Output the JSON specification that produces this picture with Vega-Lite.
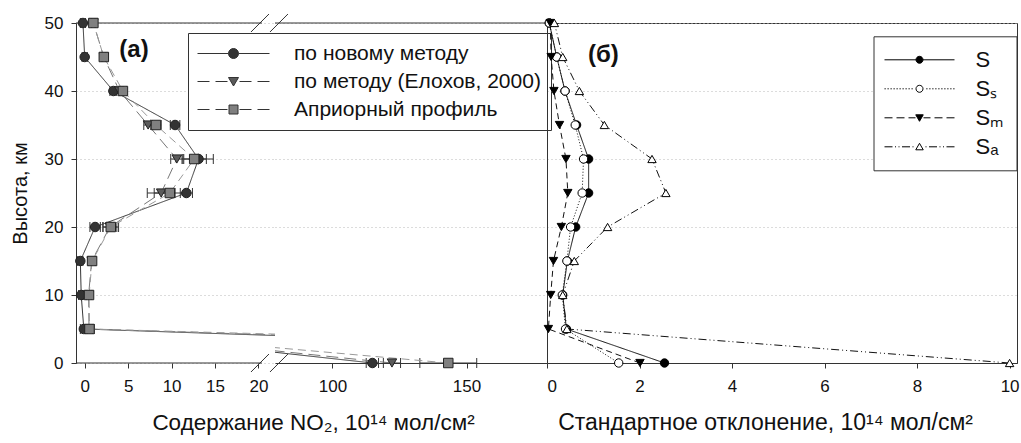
{
  "$schema": "https://vega.github.io/schema/vega-lite/v6.json",
  "padding": {"left": 10, "top": 12, "right": 3, "bottom": 3},
  "background": "white",
  "config": {
    "view": {"stroke": null},
    "font": "Liberation Sans",
    "axis": {"labelFont": "Liberation Sans", "labelFontSize": 17, "labelColor": "#111", "titleFont": "Liberation Sans", "titleFontWeight": "normal", "titleColor": "#111", "domainColor": "#333", "tickColor": "#333", "tickSize": 5, "gridColor": "#b8b8b8", "gridDash": [1, 3], "domainWidth": 1, "tickWidth": 1},
    "legend": {"labelFont": "Liberation Sans", "labelColor": "#111", "labelLimit": 400}
  },
  "datasets": {
    "a": [
      {"s": "по новому методу", "h": 50, "v": -0.2, "lo": -0.5, "hi": 0.1},
      {"s": "по новому методу", "h": 45, "v": 0.0, "lo": -0.3, "hi": 0.3},
      {"s": "по новому методу", "h": 40, "v": 3.3, "lo": 2.9, "hi": 3.7},
      {"s": "по новому методу", "h": 35, "v": 10.4, "lo": 9.85, "hi": 10.95},
      {"s": "по новому методу", "h": 30, "v": 13.1, "lo": 11.4, "hi": 14.8},
      {"s": "по новому методу", "h": 25, "v": 11.7, "lo": 11.0, "hi": 12.4},
      {"s": "по новому методу", "h": 20, "v": 1.2, "lo": 0.6, "hi": 1.8},
      {"s": "по новому методу", "h": 15, "v": -0.5, "lo": -0.8, "hi": -0.2},
      {"s": "по новому методу", "h": 10, "v": -0.4, "lo": -0.7, "hi": -0.1},
      {"s": "по новому методу", "h": 5, "v": -0.1, "lo": -0.5, "hi": 0.3},
      {"s": "по новому методу", "h": 0, "v": 114.9, "lo": 112.6, "hi": 117.2},
      {"s": "по методу (Елохов, 2000)", "h": 50, "v": 1.0, "lo": 0.8, "hi": 1.2},
      {"s": "по методу (Елохов, 2000)", "h": 45, "v": 2.2, "lo": 2.0, "hi": 2.4},
      {"s": "по методу (Елохов, 2000)", "h": 40, "v": 4.0, "lo": 3.6, "hi": 4.4},
      {"s": "по методу (Елохов, 2000)", "h": 35, "v": 7.3, "lo": 6.8, "hi": 7.8},
      {"s": "по методу (Елохов, 2000)", "h": 30, "v": 10.6, "lo": 9.9, "hi": 11.3},
      {"s": "по методу (Елохов, 2000)", "h": 25, "v": 8.8, "lo": 7.2, "hi": 10.4},
      {"s": "по методу (Елохов, 2000)", "h": 20, "v": 2.9, "lo": 2.1, "hi": 3.7},
      {"s": "по методу (Елохов, 2000)", "h": 15, "v": 0.8, "lo": 0.4, "hi": 1.2},
      {"s": "по методу (Елохов, 2000)", "h": 10, "v": 0.45, "lo": 0.15, "hi": 0.75},
      {"s": "по методу (Елохов, 2000)", "h": 5, "v": 0.5, "lo": 0.1, "hi": 0.9},
      {"s": "по методу (Елохов, 2000)", "h": 0, "v": 122.2, "lo": 119.0, "hi": 125.4},
      {"s": "Априорный профиль", "h": 50, "v": 1.0, "lo": 0.8, "hi": 1.2},
      {"s": "Априорный профиль", "h": 45, "v": 2.2, "lo": 2.0, "hi": 2.4},
      {"s": "Априорный профиль", "h": 40, "v": 4.4, "lo": 4.0, "hi": 4.8},
      {"s": "Априорный профиль", "h": 35, "v": 8.2, "lo": 7.6, "hi": 8.8},
      {"s": "Априорный профиль", "h": 30, "v": 12.6, "lo": 11.2, "hi": 14.0},
      {"s": "Априорный профиль", "h": 25, "v": 9.8, "lo": 8.0, "hi": 11.6},
      {"s": "Априорный профиль", "h": 20, "v": 3.0, "lo": 2.1, "hi": 3.9},
      {"s": "Априорный профиль", "h": 15, "v": 0.85, "lo": 0.45, "hi": 1.25},
      {"s": "Априорный профиль", "h": 10, "v": 0.5, "lo": 0.2, "hi": 0.8},
      {"s": "Априорный профиль", "h": 5, "v": 0.55, "lo": 0.0, "hi": 1.1},
      {"s": "Априорный профиль", "h": 0, "v": 143.2, "lo": 132.6, "hi": 153.8}
    ],
    "b": [
      {"s": "S", "h": 50, "v": 0.05}, {"s": "S", "h": 45, "v": 0.21}, {"s": "S", "h": 40, "v": 0.39}, {"s": "S", "h": 35, "v": 0.64}, {"s": "S", "h": 30, "v": 0.90}, {"s": "S", "h": 25, "v": 0.90}, {"s": "S", "h": 20, "v": 0.62}, {"s": "S", "h": 15, "v": 0.44}, {"s": "S", "h": 10, "v": 0.34}, {"s": "S", "h": 5, "v": 0.42}, {"s": "S", "h": 0, "v": 2.54},
      {"s": "Sₛ", "h": 50, "v": 0.05}, {"s": "Sₛ", "h": 45, "v": 0.21}, {"s": "Sₛ", "h": 40, "v": 0.39}, {"s": "Sₛ", "h": 35, "v": 0.61}, {"s": "Sₛ", "h": 30, "v": 0.79}, {"s": "Sₛ", "h": 25, "v": 0.76}, {"s": "Sₛ", "h": 20, "v": 0.51}, {"s": "Sₛ", "h": 15, "v": 0.43}, {"s": "Sₛ", "h": 10, "v": 0.33}, {"s": "Sₛ", "h": 5, "v": 0.40}, {"s": "Sₛ", "h": 0, "v": 1.55},
      {"s": "Sₘ", "h": 50, "v": 0.07}, {"s": "Sₘ", "h": 45, "v": 0.09}, {"s": "Sₘ", "h": 40, "v": 0.15}, {"s": "Sₘ", "h": 35, "v": 0.27}, {"s": "Sₘ", "h": 30, "v": 0.41}, {"s": "Sₘ", "h": 25, "v": 0.45}, {"s": "Sₘ", "h": 20, "v": 0.31}, {"s": "Sₘ", "h": 15, "v": 0.14}, {"s": "Sₘ", "h": 10, "v": 0.08}, {"s": "Sₘ", "h": 5, "v": 0.03}, {"s": "Sₘ", "h": 0, "v": 2.01},
      {"s": "Sₐ", "h": 50, "v": 0.16}, {"s": "Sₐ", "h": 45, "v": 0.34}, {"s": "Sₐ", "h": 40, "v": 0.70}, {"s": "Sₐ", "h": 35, "v": 1.24}, {"s": "Sₐ", "h": 30, "v": 2.27}, {"s": "Sₐ", "h": 25, "v": 2.57}, {"s": "Sₐ", "h": 20, "v": 1.31}, {"s": "Sₐ", "h": 15, "v": 0.59}, {"s": "Sₐ", "h": 10, "v": 0.34}, {"s": "Sₐ", "h": 5, "v": 0.43}, {"s": "Sₐ", "h": 0, "v": 10.0}
    ]
  },
  "hconcat": [
    {
      "width": 199,
      "height": 340,
      "layer": [
        {
          "data": {"values": [{}]},
          "mark": {"type": "rule", "color": "#333", "strokeWidth": 1},
          "encoding": {"x": {"datum": -1, "type": "quantitative"}, "x2": {"datum": 20.4}, "y": {"datum": 50, "type": "quantitative"}}
        },
        {
          "data": {"values": [{}]},
          "mark": {"type": "rule", "color": "#333", "strokeWidth": 1},
          "encoding": {"x": {"datum": -1, "type": "quantitative"}, "x2": {"datum": 20.4}, "y": {"datum": 0, "type": "quantitative"}}
        },
        {
          "data": {"name": "a"},
          "transform": [{"filter": "datum.v <= 20.4"}],
          "mark": {"type": "rule", "color": "#333", "strokeWidth": 1},
          "encoding": {"x": {"field": "lo", "type": "quantitative"}, "x2": {"field": "hi"}, "y": {"field": "h", "type": "quantitative"}}
        },
        {
          "data": {"name": "a"},
          "transform": [{"filter": "datum.v <= 20.4"}],
          "mark": {"type": "tick", "orient": "vertical", "size": 10, "thickness": 1, "color": "#333", "opacity": 1},
          "encoding": {"x": {"field": "lo", "type": "quantitative"}, "y": {"field": "h", "type": "quantitative"}}
        },
        {
          "data": {"name": "a"},
          "transform": [{"filter": "datum.v <= 20.4"}],
          "mark": {"type": "tick", "orient": "vertical", "size": 10, "thickness": 1, "color": "#333", "opacity": 1},
          "encoding": {"x": {"field": "hi", "type": "quantitative"}, "y": {"field": "h", "type": "quantitative"}}
        },
        {
          "data": {"name": "a"},
          "mark": {"type": "line", "clip": true, "strokeWidth": 1},
          "encoding": {
            "x": {"field": "v", "type": "quantitative", "scale": {"domain": [-1, 21.9], "nice": false, "zero": false}, "axis": {"values": [0, 5, 10, 15, 20], "title": null, "labelPadding": 10, "grid": false, "domain": false}},
            "y": {"field": "h", "type": "quantitative", "scale": {"domain": [0, 50], "nice": false}, "axis": {"values": [0, 10, 20, 30, 40, 50], "title": "Высота, км", "titleFontSize": 20, "titlePadding": 14, "labelPadding": 8, "grid": true}},
            "order": {"field": "h", "type": "quantitative"},
            "stroke": {"field": "s", "type": "nominal", "scale": {"domain": ["по новому методу", "по методу (Елохов, 2000)", "Априорный профиль"], "range": ["#333", "#777", "#999"]}, "legend": null},
            "strokeDash": {"field": "s", "type": "nominal", "scale": {"domain": ["по новому методу", "по методу (Елохов, 2000)", "Априорный профиль"], "range": [[1, 0], [12, 6], [8, 5]]}, "legend": null}
          }
        },
        {
          "data": {"name": "a"},
          "transform": [{"filter": "datum.v <= 20.4"}],
          "mark": {"type": "point", "filled": true, "size": 90, "stroke": "#222", "strokeWidth": 1, "opacity": 1},
          "encoding": {
            "x": {"field": "v", "type": "quantitative"},
            "y": {"field": "h", "type": "quantitative"},
            "shape": {"field": "s", "type": "nominal", "scale": {"domain": ["по новому методу", "по методу (Елохов, 2000)", "Априорный профиль"], "range": ["circle", "triangle-down", "square"]}, "legend": null},
            "fill": {"field": "s", "type": "nominal", "scale": {"domain": ["по новому методу", "по методу (Елохов, 2000)", "Априорный профиль"], "range": ["#333", "#5a5a5a", "#808080"]}, "legend": null}
          }
        },
        {
          "data": {"values": [{}]},
          "mark": {"type": "text", "text": "(а)", "fontSize": 24, "fontWeight": "bold", "font": "Liberation Sans", "align": "center", "baseline": "middle", "color": "#111"},
          "encoding": {"x": {"datum": 5.67, "type": "quantitative"}, "y": {"datum": 46, "type": "quantitative"}}
        }
      ]
    },
    {
      "width": 272,
      "height": 340,
      "resolve": {"scale": {"shape": "independent", "color": "independent"}},
      "layer": [
        {
          "data": {"values": [{}]},
          "mark": {"type": "rule", "color": "#333", "strokeWidth": 1},
          "encoding": {"y": {"datum": 50, "type": "quantitative", "scale": {"domain": [0, 50], "nice": false}}}
        },
        {
          "data": {"name": "a"},
          "transform": [{"filter": "datum.v >= 78.6"}],
          "mark": {"type": "rule", "color": "#333", "strokeWidth": 1},
          "encoding": {"x": {"field": "lo", "type": "quantitative"}, "x2": {"field": "hi"}, "y": {"field": "h", "type": "quantitative"}}
        },
        {
          "data": {"name": "a"},
          "transform": [{"filter": "datum.v >= 78.6"}],
          "mark": {"type": "tick", "orient": "vertical", "size": 10, "thickness": 1, "color": "#333", "opacity": 1},
          "encoding": {"x": {"field": "lo", "type": "quantitative"}, "y": {"field": "h", "type": "quantitative"}}
        },
        {
          "data": {"name": "a"},
          "transform": [{"filter": "datum.v >= 78.6"}],
          "mark": {"type": "tick", "orient": "vertical", "size": 10, "thickness": 1, "color": "#333", "opacity": 1},
          "encoding": {"x": {"field": "hi", "type": "quantitative"}, "y": {"field": "h", "type": "quantitative"}}
        },
        {
          "data": {"name": "a"},
          "mark": {"type": "line", "clip": true, "strokeWidth": 1},
          "encoding": {
            "x": {"field": "v", "type": "quantitative", "scale": {"domain": [78.6, 180], "nice": false, "zero": false}, "axis": {"values": [100, 150], "title": "Содержание NO₂, 10¹⁴ мол/см²", "titleFontSize": 22.5, "titleX": 38, "titlePadding": 17, "labelPadding": 10, "grid": false}},
            "y": {"field": "h", "type": "quantitative", "scale": {"domain": [0, 50], "nice": false}, "axis": {"values": [0, 10, 20, 30, 40, 50], "title": null, "labels": false, "ticks": false, "domain": false, "grid": true}},
            "order": {"field": "h", "type": "quantitative"},
            "stroke": {"field": "s", "type": "nominal", "scale": {"domain": ["Априорный профиль", "по методу (Елохов, 2000)", "по новому методу"], "range": ["#999", "#777", "#333"]}, "legend": null},
            "strokeDash": {"field": "s", "type": "nominal", "scale": {"domain": ["Априорный профиль", "по методу (Елохов, 2000)", "по новому методу"], "range": [[8, 5], [12, 6], [1, 0]]}, "legend": null}
          }
        },
        {
          "data": {"name": "a"},
          "transform": [{"filter": "datum.v >= 78.6"}],
          "mark": {"type": "point", "filled": true, "size": 90, "stroke": "#222", "strokeWidth": 1, "opacity": 1},
          "encoding": {
            "x": {"field": "v", "type": "quantitative"},
            "y": {"field": "h", "type": "quantitative"},
            "shape": {"field": "s", "type": "nominal", "scale": {"domain": ["Априорный профиль", "по методу (Елохов, 2000)", "по новому методу"], "range": ["square", "triangle-down", "circle"]}, "legend": null},
            "fill": {"field": "s", "type": "nominal", "scale": {"domain": ["Априорный профиль", "по методу (Елохов, 2000)", "по новому методу"], "range": ["#808080", "#5a5a5a", "#333"]}, "legend": null}
          }
        },
        {
          "data": {"name": "a"},
          "transform": [{"filter": "datum.v > 1000"}],
          "mark": {"type": "point", "filled": true, "size": 100, "stroke": "#333", "strokeWidth": 1, "opacity": 1},
          "encoding": {
            "x": {"field": "v", "type": "quantitative"},
            "y": {"field": "h", "type": "quantitative"},
            "shape": {
              "field": "s", "type": "nominal",
              "scale": {"domain": ["по новому методу", "по методу (Елохов, 2000)", "Априорный профиль"], "range": ["M-7.2,0H-1M1,0H7.2M-1,0A1,1,0,1,0,1,0A1,1,0,1,0,-1,0Z", "M-7.2,0H-4.8M-3.6,0H-1.2M1.2,0H3.6M4.8,0H7.2M-1,-0.8L1,-0.8L0,0.9Z", "M-7.2,0H-4.8M-3.6,0H-1.2M1.2,0H3.6M4.8,0H7.2M-0.9,-0.9H0.9V0.9H-0.9Z"]},
              "legend": {
                "orient": "none", "legendX": -87, "legendY": 10, "direction": "vertical", "title": null,
                "strokeColor": "#333", "fillColor": "#fff", "padding": 10, "rowPadding": 6, "cornerRadius": 0,
                "labelFontSize": 21, "labelLimit": 400,
                "symbolOffset": 25, "labelOffset": 50, "symbolSize": 100, "symbolStrokeWidth": 1
              }
            },
            "color": {
              "field": "s", "type": "nominal",
              "scale": {"domain": ["по новому методу", "по методу (Елохов, 2000)", "Априорный профиль"], "range": ["#333", "#5a5a5a", "#808080"]},
              "legend": {
                "orient": "none", "legendX": -87, "legendY": 10, "direction": "vertical", "title": null,
                "strokeColor": "#333", "fillColor": "#fff", "padding": 10, "rowPadding": 6, "cornerRadius": 0,
                "labelFontSize": 21, "labelLimit": 400,
                "symbolOffset": 25, "labelOffset": 50, "symbolSize": 100, "symbolStrokeWidth": 1
              }
            }
          }
        },
        {
          "data": {"values": [{}]},
          "mark": {"type": "point", "shape": "M-2.67,1L-0.67,-1M-0.56,1L1.44,-1", "size": 324, "filled": false, "stroke": "#333", "strokeWidth": 1, "opacity": 1},
          "encoding": {"x": {"datum": 78.6, "type": "quantitative"}, "y": {"datum": 0, "type": "quantitative"}}
        },
        {
          "data": {"values": [{}]},
          "mark": {"type": "point", "shape": "M-2.67,1L-0.67,-1M-0.56,1L1.44,-1", "size": 324, "filled": false, "stroke": "#333", "strokeWidth": 1, "opacity": 1},
          "encoding": {"x": {"datum": 78.6, "type": "quantitative"}, "y": {"datum": 50, "type": "quantitative"}}
        }
      ]
    },
    {
      "width": 470,
      "height": 340,
      "view": {"stroke": "#333", "strokeWidth": 1},
      "resolve": {"scale": {"shape": "independent", "color": "independent"}},
      "layer": [
        {
          "data": {"name": "b"},
          "mark": {"type": "line", "strokeWidth": 1, "color": "#111"},
          "encoding": {
            "x": {"field": "v", "type": "quantitative", "scale": {"domain": [0, 10.16], "nice": false, "zero": false}, "axis": {"values": [0, 2, 4, 6, 8, 10], "title": "Стандартное отклонение, 10¹⁴ мол/см²", "titleFontSize": 23, "titleX": 218, "titlePadding": 17, "labelPadding": 10, "grid": false}},
            "y": {"field": "h", "type": "quantitative", "scale": {"domain": [0, 50], "nice": false}, "axis": {"values": [0, 10, 20, 30, 40, 50], "title": null, "labels": false, "ticks": false, "domain": true, "grid": true}},
            "order": {"field": "h", "type": "quantitative"},
            "strokeDash": {"field": "s", "type": "nominal", "scale": {"domain": ["Sₐ", "Sₘ", "Sₛ", "S"], "range": [[8, 3, 1, 3, 1, 3], [6, 4], [1, 2], [1, 0]]}, "legend": null}
          }
        },
        {
          "data": {"name": "b"},
          "mark": {"type": "point", "filled": true, "size": 70, "stroke": "#000", "strokeWidth": 1, "opacity": 1},
          "encoding": {
            "x": {"field": "v", "type": "quantitative"},
            "y": {"field": "h", "type": "quantitative"},
            "shape": {"field": "s", "type": "nominal", "scale": {"domain": ["Sₐ", "Sₘ", "Sₛ", "S"], "range": ["triangle-up", "triangle-down", "circle", "circle"]}, "legend": null},
            "fill": {"field": "s", "type": "nominal", "scale": {"domain": ["Sₐ", "Sₘ", "Sₛ", "S"], "range": ["#fff", "#000", "#fff", "#000"]}, "legend": null}
          }
        },
        {
          "data": {"name": "b"},
          "transform": [{"filter": "datum.v > 1000"}],
          "mark": {"type": "point", "filled": true, "size": 100, "stroke": "#000", "strokeWidth": 1, "opacity": 1},
          "encoding": {
            "x": {"field": "v", "type": "quantitative"},
            "y": {"field": "h", "type": "quantitative"},
            "shape": {
              "field": "s", "type": "nominal",
              "scale": {"domain": ["S", "Sₛ", "Sₘ", "Sₐ"], "range": ["M-7,0H-0.7M0.7,0H7M-0.7,0A0.7,0.7,0,1,0,0.7,0A0.7,0.7,0,1,0,-0.7,0Z", "M-7,0h0.25M-6.4,0h0.25M-5.8,0h0.25M-5.2,0h0.25M-4.6,0h0.25M-4,0h0.25M-3.4,0h0.25M-2.8,0h0.25M-2.2,0h0.25M-1.6,0h0.25M1.35,0h0.25M1.95,0h0.25M2.55,0h0.25M3.15,0h0.25M3.75,0h0.25M4.35,0h0.25M4.95,0h0.25M5.55,0h0.25M6.15,0h0.25M6.75,0h0.25M-0.7,0A0.7,0.7,0,1,0,0.7,0A0.7,0.7,0,1,0,-0.7,0Z", "M-7,0H-5.4M-4.6,0H-3M-2.2,0H-0.8M0.8,0H2.2M3,0H4.6M5.4,0H7M-0.75,-0.6L0.75,-0.6L0,0.7Z", "M-7,0H-5.4M-4.9,0H-4.7M-4.2,0H-4M-3.5,0H-1.9M-1.4,0H-1.2M1.2,0H1.4M1.9,0H3.5M4,0H4.2M4.7,0H4.9M5.4,0H7M-0.75,0.6L0.75,0.6L0,-0.7Z"]},
              "legend": {
                "orient": "none", "legendX": 326.5, "legendY": 13.3, "direction": "vertical", "title": null,
                "strokeColor": "#333", "fillColor": "#fff", "padding": 12.5, "rowPadding": 7, "cornerRadius": 0,
                "labelFontSize": 22, "labelLimit": 400,
                "symbolOffset": 22.5, "labelOffset": 45, "symbolSize": 100, "symbolStrokeWidth": 1
              }
            },
            "color": {
              "field": "s", "type": "nominal",
              "scale": {"domain": ["S", "Sₛ", "Sₘ", "Sₐ"], "range": ["#000", "#fff", "#000", "#fff"]},
              "legend": {
                "orient": "none", "legendX": 326.5, "legendY": 13.3, "direction": "vertical", "title": null,
                "strokeColor": "#333", "fillColor": "#fff", "padding": 12.5, "rowPadding": 7, "cornerRadius": 0,
                "labelFontSize": 22, "labelLimit": 400,
                "symbolOffset": 22.5, "labelOffset": 45, "symbolSize": 100, "symbolStrokeWidth": 1
              }
            }
          }
        },
        {
          "data": {"values": [{}]},
          "mark": {"type": "text", "text": "(б)", "fontSize": 24, "fontWeight": "bold", "font": "Liberation Sans", "align": "center", "baseline": "middle", "color": "#111"},
          "encoding": {"x": {"datum": 1.22, "type": "quantitative"}, "y": {"datum": 45.25, "type": "quantitative"}}
        }
      ]
    }
  ],
  "spacing": 0,
  "bounds": "flush",
  "resolve": {
    "scale": {"shape": "independent", "fill": "independent", "stroke": "independent", "strokeDash": "independent", "color": "independent"},
    "legend": {"shape": "independent", "fill": "independent", "stroke": "independent", "strokeDash": "independent", "color": "independent"}
  }
}
